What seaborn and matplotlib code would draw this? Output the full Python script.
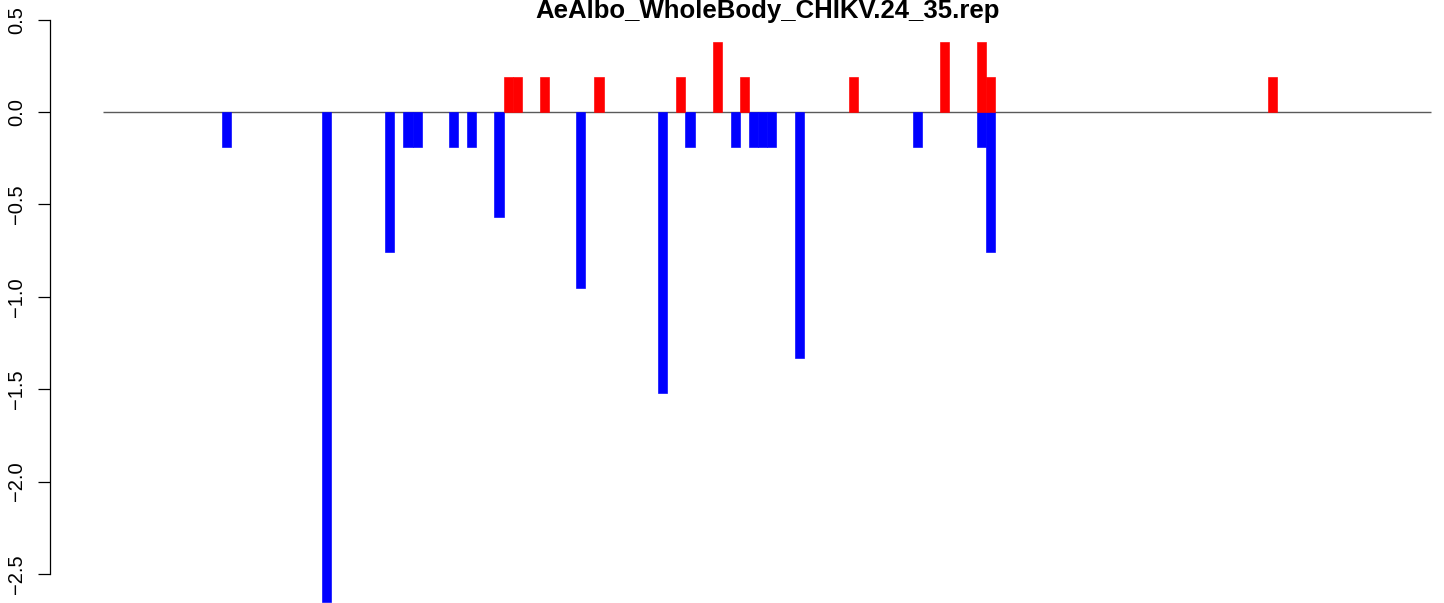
import numpy as np
import pandas as pd
import matplotlib
matplotlib.use("Agg")
import matplotlib.pyplot as plt
import seaborn as sns

plt.rcParams['font.family'] = ['Liberation Sans', 'DejaVu Sans']

title = "AeAlbo_WholeBody_CHIKV.24_35.rep"
n_positions = 146

# negative (blue) bars: position index, value
neg_pos = [13, 24, 31, 33, 34, 38, 40, 43, 52, 61, 64, 69, 71, 72, 73, 76, 89, 96, 97]
neg_val = [-0.19, -2.65, -0.76, -0.19, -0.19, -0.19, -0.19, -0.57, -0.95, -1.52,
           -0.19, -0.19, -0.19, -0.19, -0.19, -1.33, -0.19, -0.19, -0.76]
# positive (red) bars
pos_pos = [44, 45, 48, 54, 63, 67, 70, 82, 92, 96, 97, 128]
pos_val = [0.19, 0.19, 0.19, 0.19, 0.19, 0.38, 0.19, 0.19, 0.38, 0.38, 0.19, 0.19]

yticks = [0.5, 0.0, -0.5, -1.0, -1.5, -2.0, -2.5]

df = pd.DataFrame({
    "pos": neg_pos + pos_pos,
    "value": neg_val + pos_val,
    "dir": ["down"] * len(neg_pos) + ["up"] * len(pos_pos),
})

W, H = 1444, 603
fig = plt.figure(figsize=(W / 100, H / 100), dpi=100)

# layout (pixels)
ax_left_px = 50.2
line_start_px = 103.3
step_px = 9.096
zero_px = 112.0
unit_px = 184.8

ax = fig.add_axes([ax_left_px / W, 0, (W - ax_left_px) / W, 1])

sns.barplot(data=df, x="pos", y="value", hue="dir", native_scale=True,
            width=1, dodge=False, errorbar=None, saturation=1,
            palette={"down": "#0000FF", "up": "#FF0000"},
            legend=False, ax=ax, zorder=2)

for p in ax.patches:
    p.set_edgecolor(p.get_facecolor())
    p.set_linewidth(0.45)

ax.hlines(0, -0.5, n_positions - 0.5, color="#5a5a5a", lw=1.0, zorder=1)

x_left = -0.5 - (line_start_px - ax_left_px) / step_px
x_right = -0.5 + (W - line_start_px) / step_px
ax.set_xlim(x_left, x_right)
ax.set_ylim(-(H - zero_px) / unit_px, zero_px / unit_px)

for s in ["top", "right", "bottom"]:
    ax.spines[s].set_visible(False)
ax.spines["left"].set_bounds(-2.5, 0.5)
ax.spines["left"].set_linewidth(0.9)
ax.set_xticks([])
ax.set_yticks(yticks)
ax.set_yticklabels([f"{v:.1f}".replace("-", "\u2212") for v in yticks],
                   rotation=90, va="center", fontsize=14.5)
ax.tick_params(axis="y", length=8.6, width=0.9, pad=9)
ax.set_xlabel("")
ax.set_ylabel("")
ax.patch.set_alpha(0)

fig.text(767.4 / W, 1 - 18 / H, title, ha="center", va="baseline",
         fontsize=18.5, fontweight="bold")

fig.savefig("out.png", dpi=100)
